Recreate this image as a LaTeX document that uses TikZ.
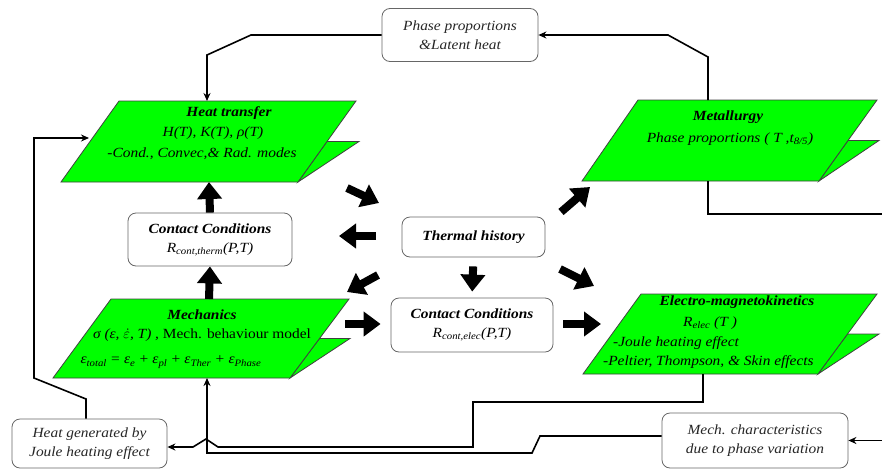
\documentclass[tikz,border=0pt]{standalone}
\usepackage{fontspec}
\setmainfont{Liberation Serif}[FakeStretch=1.1]
\usetikzlibrary{arrows.meta}
\definecolor{grn}{RGB}{0,255,0}
\newcommand\opsp[1]{\hspace{.3em}{\upshape #1}\hspace{.3em}}
\begin{document}
\begin{tikzpicture}[x=1pt,y=-1pt,
  font=\fontsize{14}{19}\selectfont\itshape,
  para/.style={fill=grn, draw=black!75, line width=0.8pt},
  rbox/.style={draw=black!60, line width=0.8pt, rounded corners=8pt, fill=white, inner sep=0pt, align=center, text=black!85},
  tx/.style={inner sep=0pt},
  ttl/.style={inner sep=0pt, font=\fontsize{14}{19}\selectfont\bfseries\itshape},
  conn/.style={line width=1.6pt, draw=black},
  arr/.style={conn, -{Stealth[length=8pt,width=7pt]}},
  fat/.style={line width=8pt, -{Triangle[length=17pt,width=24pt]}}
]
\useasboundingbox (0,0) rectangle (882,469);

% ---------- parallelograms ----------
% Heat transfer
\filldraw[para] (327,141.5) -- (359,141.5) -- (298,182) -- cycle;
\filldraw[para] (119,101) -- (356,101) -- (298,182) -- (61,182) -- cycle;
% Metallurgy
\filldraw[para] (848,140.5) -- (879,140.5) -- (819,181) -- cycle;
\filldraw[para] (638,100) -- (877,100) -- (819,181) -- (582,181) -- cycle;
% Mechanics
\filldraw[para] (319.5,338.5) -- (350,338.5) -- (290,378) -- cycle;
\filldraw[para] (111,299) -- (349,299) -- (290,378) -- (53,378) -- cycle;
% Electro-magnetokinetics
\filldraw[para] (847.5,334) -- (879,334) -- (818,374) -- cycle;
\filldraw[para] (641,294) -- (877,294) -- (818,374) -- (583,374) -- cycle;

\coordinate (ht-top) at (207,101);
\coordinate (ht-bot) at (209,182);
\coordinate (ht-left) at (89,138);
\coordinate (met-top) at (708,100);
\coordinate (met-bot) at (708,181);
\coordinate (me-top) at (209,299);
\coordinate (me-bot) at (207,378);
\coordinate (el-bot) at (703,374);

% ---------- texts in parallelograms ----------
\node[ttl] (ht1) at (229,113) {Heat transfer};
\node[tx] (ht2) at (213,133) {H(T), K(T), ρ(T)};
\node[tx] (ht3) at (202,154) {-Cond., Convec,\& Rad. modes};

\node[ttl] (met1) at (728,117) {Metallurgy};
\node[tx] (met2) at (730,139) {Phase proportions ( T ,t\textsubscript{8/5})};

\node[ttl] (me1) at (202,315) {Mechanics};
\node[tx] (me2) at (202,335) {σ (ε, $\dot{\varepsilon}$, T) , {\upshape Mech. behaviour model}};
\node[tx] (me3) at (171,362) {ε\textsubscript{total}\opsp{=}ε\textsubscript{e}\opsp{+}ε\textsubscript{pl}\opsp{+}ε\textsubscript{Ther}\opsp{+}ε\textsubscript{Phase}};

\node[ttl] (el1) at (737,302) {Electro-magnetokinetics};
\node[tx] (el2) at (710,323) {R\textsubscript{elec} (T )};
\node[tx, anchor=west] (el3) at (613,343) {-Joule heating effect};
\node[tx, anchor=west] (el4) at (603,362) {-Peltier, Thompson, \& Skin effects};

% ---------- rounded boxes ----------
\node[rbox, minimum width=156pt, minimum height=53pt] (phase) at (460,35) {Phase proportions\\\&Latent heat};
\node[rbox, minimum width=164pt, minimum height=53pt, text=black] (ct) at (210,239.5) {\textbf{Contact Conditions}\\R\textsubscript{cont,therm}(P,T)};
\node[rbox, minimum width=143pt, minimum height=40pt, text=black] (th) at (473.5,237) {\textbf{Thermal history}};
\node[rbox, minimum width=162pt, minimum height=54pt, text=black] (ce) at (472,325) {\textbf{Contact Conditions}\\R\textsubscript{cont,elec}(P,T)};
\node[rbox, minimum width=155pt, minimum height=49pt] (hg) at (89.5,443.5) {Heat generated by\\Joule heating effect};
\node[rbox, minimum width=186pt, minimum height=55pt] (mc) at (755,440.5) {Mech. characteristics\\due to phase variation};

% ---------- thin connectors ----------
\draw[arr] (met-top) -- (708,57) -- (668,35) -- (phase.east);
\draw[arr] (phase.west) -- (251,35) -- (207,55) -- (ht-top);
\coordinate (re1) at (884,214);
\draw[conn] (met-bot) -- (met-bot |- re1) -- (re1);
\draw[arr] (el-bot) -- (703,402) -- (473,402) -- (473,447) -- (218,447) -- (206,439) -- (193,447) -- (hg.east |- 0,447);
\draw[arr] (mc.west |- 0,436) -- (540,436) -- (532,453) -- (207,453) -- (me-bot);
\coordinate (re2) at (884,440.5);
\draw[arr] (re2) -- (mc.east);
\draw[arr] (hg.north -| 86,0) -- (86,399) -- (34,378) -- (34,138) -- (ht-left);

% ---------- fat arrows ----------
\draw[fat] (me-top) -- (ct.south);
\draw[fat] (ct.north) -- (ht-bot);
\coordinate (a1) at (347,188); \coordinate (a2) at (379,203);
\coordinate (b1) at (376,236); \coordinate (b2) at (339,236);
\coordinate (c1) at (378,275); \coordinate (c2) at (347,292);
\coordinate (e1) at (561,212); \coordinate (e2) at (590,187);
\coordinate (f1) at (560,269); \coordinate (f2) at (594,286);
\coordinate (g1) at (345,324);
\coordinate (h2) at (601,324);
\draw[fat] (a1) -- (a2);
\draw[fat] (b1) -- (b2);
\draw[fat] (c1) -- (c2);
\draw[fat] (e1) -- (e2);
\draw[fat] (f1) -- (f2);
\draw[fat, shorten <=9pt, shorten >=6pt] (th.south) -- (ce.north);
\draw[fat] (g1) -- (g1 -| ce.west) [shorten >=10pt];
\draw[fat, shorten <=10pt] (ce.east |- h2) -- (h2);
\end{tikzpicture}
\end{document}
